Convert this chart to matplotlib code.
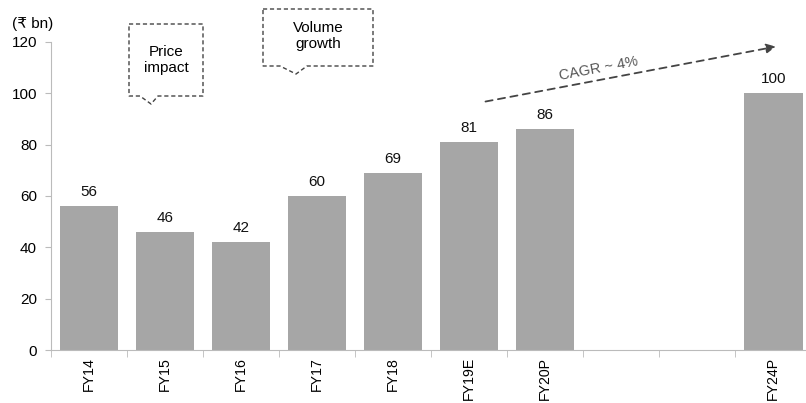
import matplotlib.pyplot as plt
import numpy as np

plt.rcParams['font.family'] = ['Liberation Sans', 'DejaVu Sans']

labels = ['FY14', 'FY15', 'FY16', 'FY17', 'FY18', 'FY19E', 'FY20P', '', '', 'FY24P']
values = [56, 46, 42, 60, 69, 81, 86, None, None, 100]

fig = plt.figure(figsize=(8.06, 4.03), dpi=100)
ax = fig.add_axes([0.063, 0.1315, 0.937, 0.7643])

x = np.arange(len(labels))
for xi, v in zip(x, values):
    if v is None:
        continue
    ax.bar(xi, v, width=0.77, color='#a6a6a6')
    ax.annotate(str(v), (xi, v), xytext=(0, 5), textcoords='offset points',
                ha='center', va='bottom', fontsize=11, color='#111111')

ax.set_xlim(-0.5, 9.43)
ax.set_ylim(0, 120)
ax.set_yticks(range(0, 121, 20))
ax.tick_params(axis='y', labelsize=11, length=4, color='#bbbbbb', pad=6)
ax.set_xticks(x)
ax.set_xticklabels(labels, rotation=90, fontsize=10.2)
ax.tick_params(axis='x', which='major', length=0, pad=5)
ax.set_xticks(np.arange(-0.5, 9.5, 1), minor=True)
ax.tick_params(axis='x', which='minor', length=5, color='#bbbbbb')
for s in ['top', 'right']:
    ax.spines[s].set_visible(False)
for s in ['left', 'bottom']:
    ax.spines[s].set_color('#bbbbbb')

fig.text(12 / 806, 1 - 24 / 403, '(₹ bn)', fontsize=11, va='center', ha='left')


def px(xp, yp):
    return (xp / 806, 1 - yp / 403)


def callout(box, tail, text, ty):
    l, r, t, b = box
    a, tip, c = tail
    pts = [(l, t), (r, t), (r, b), (c, b), tip, (a, b), (l, b), (l, t)]
    pts = [px(*p) for p in pts]
    fig.add_artist(plt.Polygon(pts, closed=True, fill=False, ls=(0, (3, 2)),
                               lw=1.0, ec='#444444', transform=fig.transFigure))
    fig.text((l + r) / 2 / 806, 1 - ty / 403, text, ha='center', va='center',
             fontsize=11, linespacing=1.25)


callout((129, 203, 24, 96), (140, (151, 104), 158), 'Price\nimpact', 60)
callout((263, 373, 9, 66), (280, (296, 74), 307), 'Volume\ngrowth', 36)

# CAGR arrow
ax.annotate('', xy=(9.07, 118.4), xytext=(5.18, 96.6), annotation_clip=False,
            arrowprops=dict(arrowstyle='-|>', ls=(0, (4, 3)), lw=1.3,
                            color='#444444', mutation_scale=14))
ax.text(6.7, 109.5, 'CAGR ~ 4%', rotation=10.7, ha='center', va='center',
        fontsize=10.5, color='#555555', rotation_mode='anchor')

fig.savefig('out.png', dpi=100)
